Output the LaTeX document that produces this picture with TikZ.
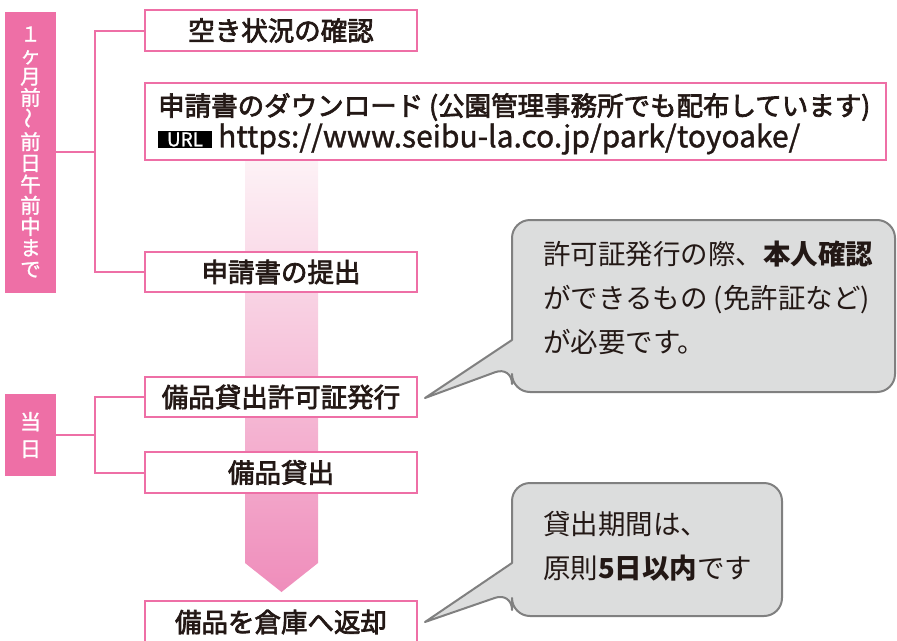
\documentclass[tikz,border=0pt]{standalone}
\usepackage{fontspec}
\usepackage{graphicx}
\setmainfont{Noto Sans CJK JP}
\newfontfamily\jpmed{Noto Sans CJK JP}[FakeBold=2.6]
\newfontfamily\jpurl{Noto Sans CJK JP}[FakeBold=1.2]
\definecolor{pk}{HTML}{EE6FA6}
\definecolor{pkA}{HTML}{FDF2F6}
\definecolor{pkB}{HTML}{EF8DBB}
\definecolor{txt}{HTML}{231815}
\definecolor{cfill}{HTML}{DCDDDD}
\definecolor{cline}{HTML}{808080}
\tikzset{
 stepbox/.style={draw=pk, line width=2pt, fill=white, inner sep=0pt, minimum width=272pt, minimum height=41pt, text=txt, font=\fontsize{26.5}{30}\jpmed},
 bar/.style={fill=pk, inner sep=0pt, text=white, align=center},
 bracket/.style={draw=pk, line width=2pt},
 callout/.style={fill=cfill, draw=cline, line width=2pt, line join=round},
 calltext/.style={text=txt, font=\fontsize{27.5}{44}\selectfont, align=left, anchor=west, inner sep=0pt},
 plain/.style={text=txt, inner sep=0pt, anchor=west}
}
\begin{document}
\begin{tikzpicture}[x=1pt,y=-1pt]
\useasboundingbox (0,0) rectangle (897,640);
% gradient arrow
\shade[top color=pkA, bottom color=pkB] (245,160) -- (318,160) -- (318,563) -- (281.5,592) -- (245,563) -- cycle;
% bars
\node[bar, minimum width=51pt, minimum height=281pt, font=\fontsize{20.5}{21.2}\jpurl] (bar1) at (30.5,152)
 {１\\ヶ\\月\\前\\\rotatebox{90}{〜}\\前\\日\\午\\前\\中\\ま\\で};
\node[bar, minimum width=51pt, minimum height=82pt, font=\fontsize{21}{27}\jpurl] (bar2) at (30.5,435) {当\\日};
% boxes
\node[stepbox] (box1) at (281,30.5) {空き状況の確認};
\node[draw=pk, line width=2pt, fill=white, minimum width=741pt, minimum height=77pt, inner sep=0pt] (box2) at (515.5,121.5) {};
\node[plain, font=\fontsize{26.5}{30}\jpmed] (dl) at (158,107) {申請書のダウンロード (公園管理事務所でも配布しています)};
\node[fill=black, text=white, inner sep=0pt, minimum width=54pt, minimum height=17pt, font=\fontsize{19}{19}\jpurl] (urltag) at (185,139.5) {URL};
\node[plain, font=\fontsize{30}{30}\jpurl] (url) at (218,139) {https://www.seibu-la.co.jp/park/toyoake/};
\node[stepbox, minimum height=40pt] (box3) at (281,272) {申請書の提出};
\node[stepbox, minimum height=40pt] (box4) at (281,397) {備品貸出許可証発行};
\node[stepbox] (box5) at (281,472.5) {備品貸出};
\node[stepbox, minimum height=42pt] (box6) at (281,622) {備品を倉庫へ返却};
% brackets
\coordinate (b1) at (95,152);
\coordinate (b2) at (95,435);
\draw[bracket] (bar1.east) -- (b1);
\draw[bracket] (box1.west) -- (box1.west -| b1) -- (box3.west -| b1) -- (box3.west);
\draw[bracket] (bar2.east) -- (b2);
\draw[bracket] (box4.west) -- (box4.west -| b2) -- (box5.west -| b2) -- (box5.west);
% callouts
\coordinate (t1) at (425,398);
\coordinate (t2) at (425,622);
\draw[callout] (512,340) [rounded corners=18pt] -- (512,220) -- (895,220) -- (895,392) -- (512,392) -- (512,366) [sharp corners] -- (t1) -- cycle;
\node[calltext] (c1) at (543,298) {許可証発行の際、{\bfseries 本人確認}\\ができるもの (免許証など)\\が必要です。};
\draw[callout] (512,563) [rounded corners=18pt] -- (512,483) -- (782,483) -- (782,616) -- (512,616) -- (512,592) [sharp corners] -- (t2) -- cycle;
\node[calltext] (c2) at (543,546) {貸出期間は、\\原則{\bfseries 5日以内}です};
\end{tikzpicture}
\end{document}
